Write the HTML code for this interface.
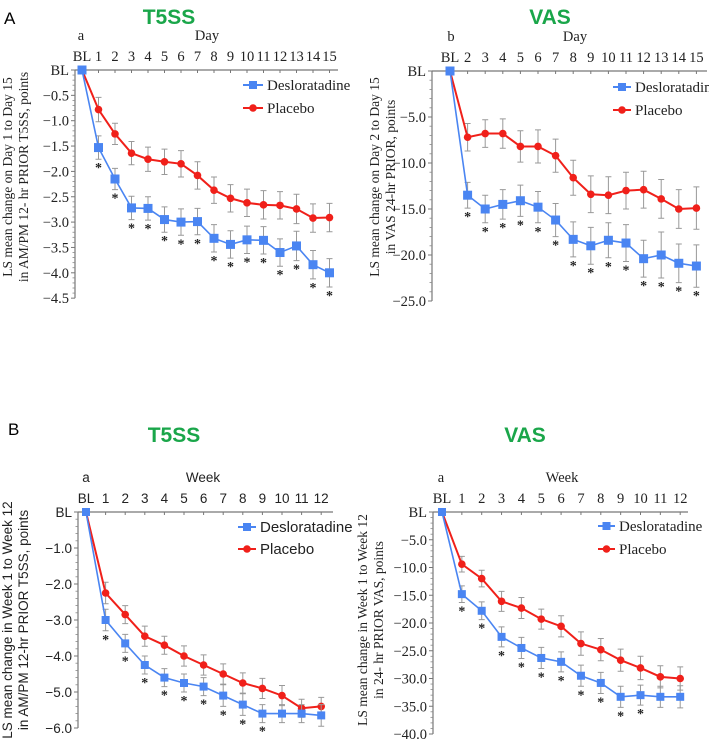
<!DOCTYPE html>
<html><head><meta charset="utf-8"><style>
html,body{margin:0;padding:0;background:#fff;width:709px;height:741px;overflow:hidden}
svg{display:block}
.ser{font-family:"Liberation Serif",serif}
.san{font-family:"Liberation Sans",sans-serif}
.ttl{font-family:"Liberation Sans",sans-serif;font-weight:bold;fill:#1aa64a;font-size:21px}
</style></head><body>
<svg id="fig" width="709" height="741" viewBox="0 0 709 741">
<text x="4" y="24" class="san" font-size="17">A</text>
<text x="169" y="24" text-anchor="middle" class="ttl">T5SS</text>
<text x="550" y="24" text-anchor="middle" class="ttl">VAS</text>
<text x="8" y="435" class="san" font-size="17">B</text>
<text x="174" y="442" text-anchor="middle" class="ttl">T5SS</text>
<text x="525" y="442" text-anchor="middle" class="ttl">VAS</text>
</svg>
<script>
// Panel A1: T5SS daily
const a1Days = [0,1,2,3,4,5,6,7,8,9,10,11,12,13,14,15];
const a1Deslo = [0,-1.53,-2.15,-2.72,-2.73,-2.95,-3.0,-2.99,-3.32,-3.44,-3.35,-3.36,-3.6,-3.47,-3.84,-4.0];
const a1DesloErr = [0,0.23,0.21,0.23,0.23,0.25,0.26,0.26,0.27,0.27,0.27,0.27,0.27,0.29,0.28,0.28];
const a1Plac = [0,-0.78,-1.26,-1.64,-1.76,-1.81,-1.85,-2.08,-2.37,-2.53,-2.62,-2.66,-2.67,-2.74,-2.92,-2.91];
const a1PlacErr = [0,0.24,0.21,0.23,0.24,0.25,0.26,0.27,0.26,0.27,0.27,0.28,0.27,0.29,0.28,0.28];
const a1Ticks = [0,-0.5,-1.0,-1.5,-2.0,-2.5,-3.0,-3.5,-4.0,-4.5];
const a1Labels = ["BL","1","2","3","4","5","6","7","8","9","10","11","12","13","14","15"];
// Panel A2: VAS daily
const a2Days = [1,2,3,4,5,6,7,8,9,10,11,12,13,14,15];
const a2Deslo = [0,-13.5,-15.0,-14.5,-14.1,-14.8,-16.2,-18.3,-19.0,-18.4,-18.7,-20.4,-20.0,-20.9,-21.2];
const a2DesloErr = [0,1.4,1.5,1.6,1.7,1.7,1.8,1.9,2.0,1.9,2.0,2.0,2.5,2.1,2.3];
const a2Plac = [0,-7.2,-6.8,-6.8,-8.2,-8.2,-9.2,-11.6,-13.4,-13.5,-13.0,-12.9,-13.9,-15.0,-14.9];
const a2PlacErr = [0,1.5,1.5,1.6,1.7,1.8,1.8,1.9,2.0,2.0,2.0,2.0,2.1,2.1,2.3];
const a2Ticks = [0,-5,-10,-15,-20,-25];
const a2Labels = ["BL","2","3","4","5","6","7","8","9","10","11","12","13","14","15"];
// Panel B1: T5SS weekly
const b1Weeks = [0,1,2,3,4,5,6,7,8,9,10,11,12];
const b1Deslo = [0,-3.0,-3.65,-4.25,-4.6,-4.75,-4.85,-5.1,-5.35,-5.6,-5.6,-5.6,-5.65];
const b1DesloErr = [0,0.3,0.25,0.25,0.25,0.25,0.25,0.3,0.3,0.25,0.25,0.25,0.3];
const b1Plac = [0,-2.25,-2.85,-3.45,-3.7,-4.0,-4.25,-4.5,-4.75,-4.9,-5.1,-5.45,-5.4];
const b1PlacErr = [0,0.3,0.25,0.28,0.25,0.28,0.28,0.28,0.28,0.28,0.28,0.25,0.25];
const b1Ticks = [0,-1,-2,-3,-4,-5,-6];
const b1Labels = ["BL","1","2","3","4","5","6","7","8","9","10","11","12"];
// Panel B2: VAS weekly
const b2Weeks = [0,1,2,3,4,5,6,7,8,9,10,11,12];
const b2Deslo = [0,-14.8,-17.8,-22.5,-24.5,-26.3,-27.0,-29.5,-30.8,-33.3,-33.0,-33.3,-33.3];
const b2DesloErr = [0,1.5,1.6,1.8,1.9,1.9,1.8,1.9,1.9,1.9,1.8,1.9,2.0];
const b2Plac = [0,-9.4,-12.0,-16.1,-17.3,-19.3,-20.6,-23.7,-24.8,-26.7,-28.1,-29.7,-30.0];
const b2PlacErr = [0,1.4,1.5,1.8,1.9,1.8,1.9,2.1,2.0,2.0,2.1,2.0,2.1];
const b2Ticks = [0,-5,-10,-15,-20,-25,-30,-35,-40];
const b2Labels = ["BL","1","2","3","4","5","6","7","8","9","10","11","12"];
const b1Stars = [1,1,1,1,1,1,1,1,1,1,0,0,0];
const b2Stars = [1,1,1,1,1,1,1,1,1,1,1,0,0];

const NS="http://www.w3.org/2000/svg";
const svg=document.getElementById('fig');
function mk(tag,attrs,parent){const e=document.createElementNS(NS,tag);for(const k in attrs)e.setAttribute(k,attrs[k]);(parent||svg).appendChild(e);return e;}

function panel(cfg){
  const g=mk('g',{});
  
  
  const fx=v=>cfg.x0+(v-cfg.xmin)*cfg.xs;
  const fy=v=>cfg.y0+(-v)*cfg.ys;
  const cls=cfg.font;
  const fs=cfg.font==='san'?13.5:14.5;
  const xa=mk('line',{x1:cfg.ax,y1:cfg.y0,x2:cfg.xend,y2:cfg.y0,stroke:'#777','stroke-width':1.2},g);
  
  
  const yb=fy(cfg.ticks[cfg.ticks.length-1]);
  const ya=mk('line',{x1:cfg.ax,y1:cfg.y0,x2:cfg.ax,y2:yb,stroke:'#777','stroke-width':1.2},g);
  
  
  for(let i=0;i<cfg.ticks.length;i++){
    const t=cfg.ticks[i],y=fy(t);
    mk('line',{x1:cfg.ax-4,y1:y,x2:cfg.ax,y2:y,stroke:'#777'},g);
    const tl=mk('text',{x:cfg.ax-6,y:y+5,'text-anchor':'end','font-size':fs,class:cls,fill:'#222'},g);
    tl.textContent=t===0?'BL':('\u2212'+Math.abs(t).toFixed(1));
    
    
    if(i<cfg.ticks.length-1){
      const step=(cfg.ticks[i+1]-t)/5;
      for(let k=1;k<5;k++){const yy=fy(t+step*k);mk('line',{x1:cfg.ax-2.5,y1:yy,x2:cfg.ax,y2:yy,stroke:'#888','stroke-width':0.8},g);}
    }
  }
  for(let i=0;i<cfg.xs_vals.length;i++){
    const x=fx(cfg.xs_vals[i]);
    mk('line',{x1:x,y1:cfg.y0,x2:x,y2:cfg.y0+3,stroke:'#777'},g);
    const tl=mk('text',{x:x,y:cfg.y0-9,'text-anchor':'middle','font-size':fs,class:cls,fill:'#222'},g);
    tl.textContent=cfg.labels[i];
    
    
  }
  const lt=mk('text',{x:cfg.letX,y:cfg.y0-30,'text-anchor':'middle','font-size':fs,class:cls,fill:'#222'},g);
  lt.textContent=cfg.letter;
  
  
  const xt=mk('text',{x:cfg.xtX,y:cfg.y0-30,'text-anchor':'middle','font-size':fs,class:cls,fill:'#222'},g);
  xt.textContent=cfg.xtitle;
  
  
  const yt=mk('text',{transform:`translate(${cfg.ytX},${cfg.ytY}) rotate(-90)`,'text-anchor':'middle','font-size':13.5,class:cls,fill:'#222'},g);
  
  
  const s1=mk('tspan',{x:0,y:0},yt);s1.textContent=cfg.ytitle[0];
  const s2=mk('tspan',{x:0,y:16},yt);s2.textContent=cfg.ytitle[1];
  function series(vals,errs,color,w,marker,sname){
    const sg=mk('g',{},g);
    
    
    for(let i=1;i<vals.length;i++){
      const x=fx(cfg.xs_vals[i]),y1=fy(vals[i]+errs[i]),y2=fy(vals[i]-errs[i]);
      mk('path',{d:`M${x-3},${y1}H${x+3}M${x},${y1}V${y2}M${x-3},${y2}H${x+3}`,stroke:'#999','stroke-width':1,fill:'none'},sg);
    }
    const pts=vals.map((v,i)=>fx(cfg.xs_vals[i])+','+fy(v)).join(' ');
    mk('polyline',{points:pts,fill:'none',stroke:color,'stroke-width':w},sg);
    for(let i=0;i<vals.length;i++){
      const x=fx(cfg.xs_vals[i]),y=fy(vals[i]);
      let m;
      if(marker==='sq'||i===0) m=mk('rect',{x:x-cfg.ms/2,y:y-cfg.ms/2,width:cfg.ms,height:cfg.ms,fill:i===0?'#4a85f2':color},sg);
      else m=mk('circle',{cx:x,cy:y,r:3.8,fill:color},sg);
      
      
    }
  }
  series(cfg.plac,cfg.placErr,'#f0201a',2,'ci','placebo-series');
  series(cfg.deslo,cfg.desloErr,'#4a85f2',1.6,'sq','desloratadine-series');
  for(let i=1;i<cfg.deslo.length;i++){
    if(!cfg.stars[i])continue;
    const st=mk('text',{x:fx(cfg.xs_vals[i]),y:fy(cfg.deslo[i]-cfg.desloErr[i])+13,'text-anchor':'middle','font-size':14,'font-weight':'bold',class:'ser',fill:'#222'},g);
    st.textContent='*';
    
    
  }
  const lg=mk('g',{},g);
  
  
  const L=cfg.leg;
  mk('line',{x1:L.x,y1:L.y,x2:L.x+L.w,y2:L.y,stroke:'#4a85f2','stroke-width':2},lg);
  mk('rect',{x:L.x+L.w/2-4,y:L.y-4,width:8,height:8,fill:'#4a85f2'},lg);
  const e1=mk('text',{x:L.x+L.w+4,y:L.y+5,'font-size':15,class:cls,fill:'#222'},lg);
  e1.textContent='Desloratadine';
  
  
  mk('line',{x1:L.x,y1:L.y2,x2:L.x+L.w,y2:L.y2,stroke:'#f0201a','stroke-width':2},lg);
  mk('circle',{cx:L.x+L.w/2,cy:L.y2,r:3.8,fill:'#f0201a'},lg);
  const e2=mk('text',{x:L.x+L.w+4,y:L.y2+5,'font-size':15,class:cls,fill:'#222'},lg);
  e2.textContent='Placebo';
  
  
}

const allStars16=a1Days.map(()=>1);
panel({name:'chart-a1-t5ss-daily',font:'ser',x0:82,xmin:0,xs:16.5,y0:70,ys:50.7,ax:75,xend:338,
  ticks:a1Ticks,xs_vals:a1Days,labels:a1Labels,deslo:a1Deslo,desloErr:a1DesloErr,plac:a1Plac,placErr:a1PlacErr,
  stars:allStars16,ms:9,letter:'a',letX:81,xtitle:'Day',xtX:207,ytX:12,ytY:177,
  ytitle:['LS mean change on Day 1 to Day 15','in AM/PM 12- hr PRIOR T5SS, points'],
  leg:{x:243,w:20,y:85,y2:108}});
panel({name:'chart-a2-vas-daily',font:'ser',x0:450,xmin:1,xs:17.6,y0:71,ys:9.2,ax:432,xend:707,
  ticks:a2Ticks,xs_vals:a2Days,labels:a2Labels,deslo:a2Deslo,desloErr:a2DesloErr,plac:a2Plac,placErr:a2PlacErr,
  stars:allStars16,ms:9,letter:'b',letX:451,xtitle:'Day',xtX:575,ytX:379,ytY:177,
  ytitle:['LS mean change on Day 2 to Day 15','in VAS 24-hr PRIOR, points'],
  leg:{x:613,w:18,y:87,y2:110}});
panel({name:'chart-b1-t5ss-weekly',font:'san',x0:86,xmin:0,xs:19.6,y0:512,ys:36,ax:78,xend:333,
  ticks:b1Ticks,xs_vals:b1Weeks,labels:b1Labels,deslo:b1Deslo,desloErr:b1DesloErr,plac:b1Plac,placErr:b1PlacErr,
  stars:b1Stars,ms:8,letter:'a',letX:86,xtitle:'Week',xtX:203,ytX:12,ytY:620,
  ytitle:['LS mean change in Week 1 to Week 12','in AM/PM 12-hr PRIOR T5SS, points'],
  leg:{x:238,w:18,y:527,y2:549}});
panel({name:'chart-b2-vas-weekly',font:'ser',x0:442,xmin:0,xs:19.85,y0:512,ys:5.55,ax:433,xend:688,
  ticks:b2Ticks,xs_vals:b2Weeks,labels:b2Labels,deslo:b2Deslo,desloErr:b2DesloErr,plac:b2Plac,placErr:b2PlacErr,
  stars:b2Stars,ms:8,letter:'a',letX:441,xtitle:'Week',xtX:562,ytX:367,ytY:620,
  ytitle:['LS mean change in Week 1 to Week 12','in 24- hr PRIOR VAS, points'],
  leg:{x:598,w:17,y:526,y2:549}});
</script>
</body></html>
